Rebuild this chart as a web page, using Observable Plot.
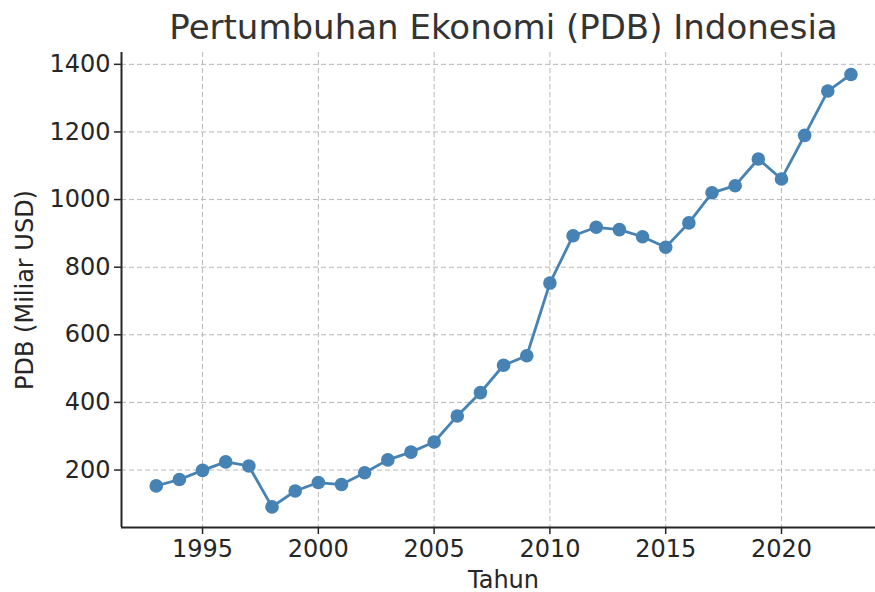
<!DOCTYPE html>
<html>
<head>
<meta charset="utf-8">
<script src="https://cdn.jsdelivr.net/npm/d3@7"></script>
<script src="https://cdn.jsdelivr.net/npm/@observablehq/plot@0.6"></script>
<style>
  html, body { margin: 0; padding: 0; background: #fff; }
  #chart svg { display: block; }
</style>
</head>
<body>
<div id="chart"></div>
<script>
const years = [1993,1994,1995,1996,1997,1998,1999,2000,2001,2002,2003,2004,2005,2006,2007,2008,2009,2010,2011,2012,2013,2014,2015,2016,2017,2018,2019,2020,2021,2022,2023];
const gdp = [153,172,199,224,212,91,138,163,157,192,230,253,283,360,429,510,538,753,893,918,911,890,859,931,1020,1041,1120,1061,1190,1321,1370];
const xTicks = [1995,2000,2005,2010,2015,2020];
const yTicks = [200,400,600,800,1000,1200,1400];
const title = "Pertumbuhan Ekonomi (PDB) Indonesia";
const xLabel = "Tahun";
const yLabel = "PDB (Miliar USD)";

const data = years.map((y, i) => ({year: y, value: gdp[i]}));
const xDomain = [1991.5, 2024.06];
const yDomain = [30, 1435];
const color = "#4682b4";
const ink = "#262626";

const chart = Plot.plot({
  width: 875,
  height: 592,
  marginLeft: 121,
  marginRight: 0,
  marginTop: 52,
  marginBottom: 65,
  style: {fontFamily: "DejaVu Sans", fontSize: "24px", color: ink, background: "#fff"},
  x: {domain: xDomain},
  y: {domain: yDomain},
  marks: [
    Plot.gridY(yTicks, {stroke: "#b8b8b8", strokeOpacity: 1, strokeDasharray: "5,3", strokeWidth: 1}),
    Plot.gridX(xTicks, {stroke: "#b8b8b8", strokeOpacity: 1, strokeDasharray: "5,3", strokeWidth: 1}),
    Plot.ruleX([xDomain[0]], {stroke: ink, strokeWidth: 2}),
    Plot.ruleY([yDomain[0]], {stroke: ink, strokeWidth: 2}),
    Plot.line(data, {x: "year", y: "value", stroke: color, strokeWidth: 2.8}),
    Plot.dot(data, {x: "year", y: "value", fill: color, r: 6.8}),
    Plot.axisX(xTicks, {tickSize: 7, tickPadding: 5, tickFormat: d => String(d), fontSize: 24, label: null, stroke: ink, strokeWidth: 1.5, fill: ink}),
    Plot.axisY(yTicks, {tickSize: 7, tickPadding: 4, tickFormat: d => String(d), fontSize: 24, label: null, stroke: ink, strokeWidth: 1.5, fill: ink}),
    Plot.text([title], {frameAnchor: "top", dx: 5, dy: -38, fontSize: 34, fill: "#333"}),
    Plot.text([xLabel], {frameAnchor: "bottom", dx: 5, dy: 60, fontSize: 24, fill: ink}),
    Plot.text([yLabel], {frameAnchor: "left", textAnchor: "middle", dx: -96, rotate: -90, fontSize: 24, fill: ink})
  ]
});
document.getElementById("chart").appendChild(chart);
</script>
</body>
</html>
